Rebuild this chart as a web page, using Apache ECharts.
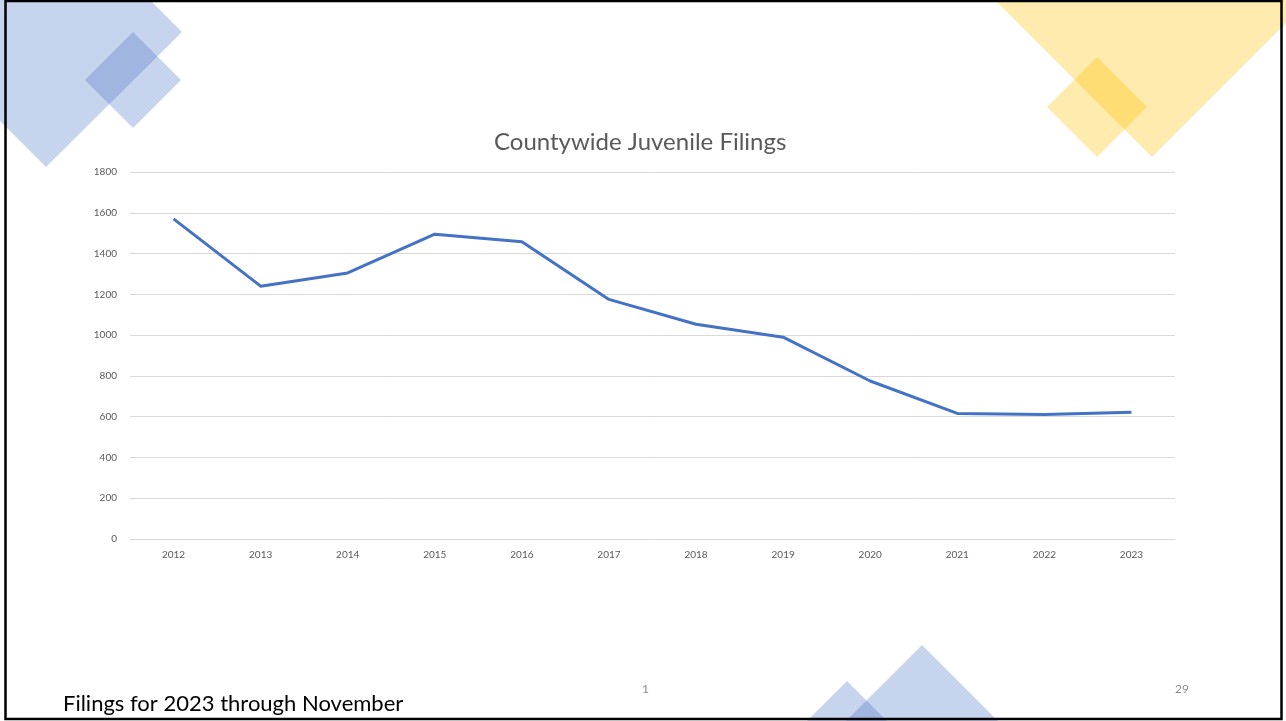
<!DOCTYPE html>
<html>
<head>
<meta charset="utf-8">
<script src="https://cdn.jsdelivr.net/npm/echarts@6/dist/echarts.min.js"></script>
<style>
html,body{margin:0;padding:0;background:#fff;}
#c{width:1286px;height:721px;}
</style>
</head>
<body>
<div id="c"></div>
<script>
var years = ['2012','2013','2014','2015','2016','2017','2018','2019','2020','2021','2022','2023'];
var filings = [1570, 1240, 1305, 1495, 1458, 1175, 1053, 990, 775, 616, 611, 622];
var yTicks = {min: 0, max: 1800, interval: 200};
var titleText = 'Countywide Juvenile Filings';
var footnote = 'Filings for 2023 through November';

function diamond(cx, cy, r, fill) {
  return {
    type: 'polygon',
    silent: true,
    shape: {points: [[cx, cy - r], [cx + r, cy], [cx, cy + r], [cx - r, cy]]},
    style: {fill: fill}
  };
}
var blue = 'rgba(68,114,196,0.3)';
var yellow = 'rgba(255,192,0,0.32)';

var chart = echarts.init(document.getElementById('c'), null, {renderer: 'canvas'});
chart.setOption({
  animation: false,
  backgroundColor: '#ffffff',
  title: {
    text: titleText,
    left: 489,
    top: 125,
    textStyle: {fontFamily: 'Lato', fontSize: 24, fontWeight: 'normal', color: '#595959'}
  },
  grid: {left: 130, right: 111, top: 172, bottom: 182},
  xAxis: {
    type: 'category',
    data: years,
    boundaryGap: true,
    axisLine: {show: true, lineStyle: {color: '#d9d9d9', width: 1}},
    axisTick: {show: false},
    axisLabel: {color: '#595959', fontFamily: 'Lato', fontSize: 10, margin: 11}
  },
  yAxis: {
    type: 'value',
    min: yTicks.min,
    max: yTicks.max,
    interval: yTicks.interval,
    axisLine: {show: false},
    axisTick: {show: false},
    splitLine: {lineStyle: {color: '#d9d9d9', width: 1}},
    axisLabel: {color: '#595959', fontFamily: 'Lato', fontSize: 10, margin: 13,
      formatter: function (v) { return String(v); }}
  },
  series: [{
    type: 'line',
    data: filings,
    symbol: 'none',
    lineStyle: {color: '#4472C4', width: 3, join: 'round'},
    z: 3
  }],
  graphic: [
    {type: 'polygon', silent: true, z: -1,
      shape: {points: [[182, 32], [46, 167], [-154, -33], [-18, -168]]},
      style: {fill: blue}},
    Object.assign(diamond(133, 80, 48, blue), {z: -1}),
    {type: 'polygon', silent: true, z: -1,
      shape: {points: [[1152, 157], [952, -43], [1152, -243], [1352, -43]]},
      style: {fill: yellow}},
    Object.assign(diamond(1097, 107, 50, yellow), {z: -1}),
    Object.assign(diamond(922, 745, 100, blue), {z: -1}),
    Object.assign(diamond(847, 781, 100, blue), {z: -1}),
    {type: 'text', left: 63, top: 693, silent: true,
      style: {text: footnote, font: '22px Lato', fill: '#000000'}},
    {type: 'text', left: 642, top: 683, silent: true,
      style: {text: '1', font: '12px Lato', fill: '#8c8c8c'}},
    {type: 'text', left: 1175, top: 683, silent: true,
      style: {text: '29', font: '12px Lato', fill: '#8c8c8c'}},
    {type: 'rect', silent: true, z: 10,
      shape: {x: 5.5, y: 1, width: 1276, height: 718},
      style: {fill: 'none', stroke: '#000000', lineWidth: 2.5}}
  ]
});
</script>
</body>
</html>
